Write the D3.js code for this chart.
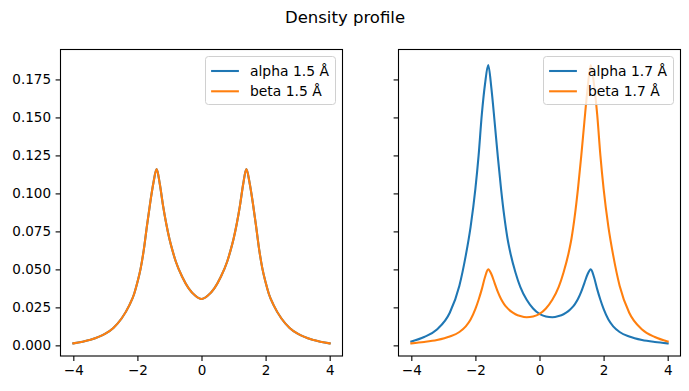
<!DOCTYPE html>
<html>
<head>
<meta charset="utf-8">
<script src="https://cdn.jsdelivr.net/npm/d3@7"></script>
<style>
  html, body { margin: 0; padding: 0; background: #fff; }
  svg { display: block; font-family: "DejaVu Sans", sans-serif; }
</style>
</head>
<body>
<svg id="chart" width="689" height="391"></svg>
<script>
// ---------- data ----------
const title = "Density profile";
const xTicks = [-4, -2, 0, 2, 4];
const yTicks = [0, 0.025, 0.05, 0.075, 0.1, 0.125, 0.15, 0.175];

// left panel (1.5 Å)
const xLeft = [-4, -3.5, -3, -2.75, -2.5, -2.25, -2.1, -2, -1.9, -1.8, -1.7, -1.6, -1.5, -1.4, -1.3, -1.2, -1.1, -1, -0.9, -0.8, -0.6, -0.4, -0.2, 0,
               0.2, 0.4, 0.6, 0.8, 0.9, 1, 1.1, 1.2, 1.3, 1.4, 1.5, 1.6, 1.7, 1.8, 1.9, 2, 2.1, 2.25, 2.5, 2.75, 3, 3.5, 4];
const alpha15 = [0.0013, 0.0035, 0.0077, 0.0115, 0.0175, 0.0265, 0.034, 0.0415, 0.0505, 0.063, 0.079, 0.094, 0.107, 0.116, 0.106, 0.092, 0.080, 0.070, 0.062, 0.055, 0.045, 0.0375, 0.0328, 0.0305,
                 0.0328, 0.0375, 0.045, 0.055, 0.062, 0.070, 0.080, 0.092, 0.106, 0.116, 0.107, 0.094, 0.079, 0.063, 0.0505, 0.0415, 0.034, 0.0265, 0.0175, 0.0115, 0.0077, 0.0035, 0.0013];
const beta15  = [0.0013, 0.0035, 0.0077, 0.0115, 0.0175, 0.0265, 0.034, 0.0415, 0.0505, 0.063, 0.079, 0.094, 0.107, 0.116, 0.106, 0.092, 0.080, 0.070, 0.062, 0.055, 0.045, 0.0375, 0.0328, 0.0305,
                 0.0328, 0.0375, 0.045, 0.055, 0.062, 0.070, 0.080, 0.092, 0.106, 0.116, 0.107, 0.094, 0.079, 0.063, 0.0505, 0.0415, 0.034, 0.0265, 0.0175, 0.0115, 0.0077, 0.0035, 0.0013];

// right panel (1.7 Å)
const xRight = [-4, -3.6, -3.2, -2.8, -2.5, -2.3, -2.15, -2, -1.9, -1.8, -1.7, -1.6, -1.5, -1.4, -1.3, -1.2, -1.1, -1, -0.9, -0.75, -0.6, -0.4, -0.2, 0,
                0.2, 0.4, 0.6, 0.75, 0.9, 1, 1.1, 1.2, 1.3, 1.4, 1.5, 1.6, 1.7, 1.8, 1.9, 2, 2.15, 2.3, 2.5, 2.8, 3.2, 3.6, 4];
const alpha17 = [0.0026, 0.0055, 0.0105, 0.0215, 0.0393, 0.0592, 0.078, 0.1031, 0.125, 0.152, 0.172, 0.1845, 0.169, 0.147, 0.124, 0.103, 0.085, 0.0705, 0.060, 0.048, 0.0385, 0.030, 0.0243, 0.0207,
                 0.019, 0.0185, 0.0193, 0.0205, 0.0225, 0.0245, 0.027, 0.0305, 0.0352, 0.041, 0.0468, 0.050, 0.045, 0.037, 0.030, 0.024, 0.017, 0.0125, 0.0088, 0.0058, 0.0035, 0.0022, 0.0013];
const beta17  = [0.0013, 0.0022, 0.0035, 0.0058, 0.0088, 0.0125, 0.017, 0.024, 0.030, 0.037, 0.045, 0.050, 0.0468, 0.041, 0.0352, 0.0305, 0.027, 0.0245, 0.0225, 0.0205, 0.0193, 0.0185, 0.019, 0.0207,
                 0.0243, 0.030, 0.0385, 0.048, 0.060, 0.0705, 0.085, 0.103, 0.124, 0.147, 0.169, 0.1845, 0.172, 0.152, 0.125, 0.1031, 0.078, 0.0592, 0.0393, 0.0215, 0.0105, 0.0055, 0.0026];

const seriesColors = ["#1f77b4", "#ff7f0e"];

// ---------- layout ----------
const svg = d3.select("#chart");
const plotTop = 49.5, plotBottom = 356;
const panels = [
  { x0: 60.5, x1: 342.5, xs: xLeft, series: [alpha15, beta15], labels: ["alpha 1.5 Å", "beta 1.5 Å"], showY: true },
  { x0: 398.5, x1: 680.5, xs: xRight, series: [alpha17, beta17], labels: ["alpha 1.7 Å", "beta 1.7 Å"], showY: false }
];
const tickFont = 13.5, legendFont = 13.9;

svg.append("text")
  .attr("x", 345).attr("y", 23)
  .attr("text-anchor", "middle")
  .attr("font-size", 16.5)
  .attr("fill", "#000")
  .text(title);

const y = d3.scaleLinear().domain([-0.0070, 0.1947]).range([plotBottom, plotTop]);

panels.forEach(p => {
  const x = d3.scaleLinear().domain([-4.4, 4.4]).range([p.x0, p.x1]);
  const g = svg.append("g");

  // lines
  const line = d3.line().x(d => x(d[0])).y(d => y(d[1])).curve(d3.curveMonotoneX);
  p.series.forEach((vals, i) => {
    const pts = p.xs.map((xv, k) => [xv, vals[k]]);
    g.append("path")
      .attr("d", line(pts))
      .attr("fill", "none")
      .attr("stroke", seriesColors[i])
      .attr("stroke-width", 2.08)
      .attr("stroke-linejoin", "round")
      .attr("stroke-linecap", "square");
  });

  // axes
  const xAxis = d3.axisBottom(x).tickValues(xTicks).tickSize(4.9).tickPadding(4.4)
    .tickFormat(d => d < 0 ? "\u2212" + Math.abs(d) : String(d));
  const gx = g.append("g").attr("transform", `translate(0,${plotBottom})`).call(xAxis);
  gx.select(".domain").remove();
  gx.selectAll("line").attr("stroke", "#000").attr("stroke-width", 1.1);
  gx.selectAll("text").attr("font-size", tickFont).attr("fill", "#000").attr("font-family", "DejaVu Sans");

  const yAxis = d3.axisLeft(y).tickValues(yTicks).tickSize(4.9).tickPadding(4.6)
    .tickFormat(p.showY ? d3.format(".3f") : () => "");
  const gy = g.append("g").attr("transform", `translate(${p.x0},0)`).call(yAxis);
  gy.select(".domain").remove();
  gy.selectAll("line").attr("stroke", "#000").attr("stroke-width", 1.1);
  gy.selectAll("text").attr("font-size", tickFont).attr("fill", "#000").attr("font-family", "DejaVu Sans");

  // spines
  g.append("rect")
    .attr("x", p.x0).attr("y", plotTop)
    .attr("width", p.x1 - p.x0).attr("height", plotBottom - plotTop)
    .attr("fill", "none").attr("stroke", "#000").attr("stroke-width", 1.1);

  // legend
  const boxW = 130, boxH = 48;
  const bx = p.x1 - 7 - boxW, by = plotTop + 7;
  const lg = g.append("g");
  lg.append("rect")
    .attr("x", bx).attr("y", by).attr("width", boxW).attr("height", boxH)
    .attr("rx", 3).attr("ry", 3)
    .attr("fill", "#fff").attr("fill-opacity", 0.8)
    .attr("stroke", "#d0d0d0").attr("stroke-width", 1);
  p.labels.forEach((lab, i) => {
    const cy = by + 14.5 + i * 20.3;
    lg.append("line")
      .attr("x1", bx + 5.6).attr("x2", bx + 5.6 + 27.8)
      .attr("y1", cy).attr("y2", cy)
      .attr("stroke", seriesColors[i]).attr("stroke-width", 2.08);
    lg.append("text")
      .attr("x", bx + 5.6 + 27.8 + 11.1).attr("y", cy + 5)
      .attr("font-size", legendFont).attr("fill", "#000")
      .text(lab);
  });
});
</script>
</body>
</html>
